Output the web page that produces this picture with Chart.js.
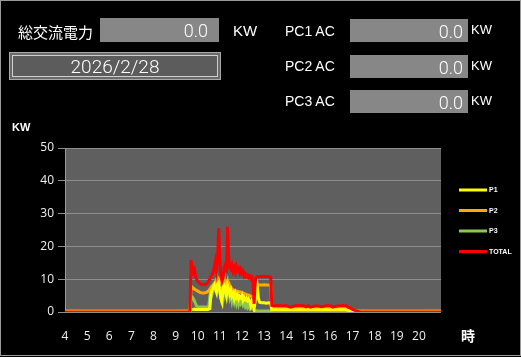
<!DOCTYPE html>
<html><head><meta charset="utf-8">
<script src="https://cdn.jsdelivr.net/npm/chart.js@4.4.1/dist/chart.umd.min.js"></script>
<style>
html,body{margin:0;padding:0;background:#000;}
#wrap{position:relative;width:521px;height:357px;overflow:hidden;background:#000;}
#frame{position:absolute;left:0;top:0;width:519px;height:354px;border:1px solid #9a9a9a;pointer-events:none;}
#c{position:absolute;left:0;top:0;}
.t{position:absolute;color:#fff;white-space:nowrap;}
.box{position:absolute;background:#878787;color:#fff;text-align:right;box-sizing:border-box;font-family:Roboto,"Open Sans",sans-serif;font-weight:300;}
</style></head>
<body>
<div id="wrap">
<canvas id="c" width="521" height="357"></canvas>
<div class="t" style="left:18px;top:21px;height:22px;line-height:22px;font:15px 'Noto Sans CJK JP';">総交流電力</div>
<div class="box" style="left:100px;top:18px;width:119px;height:24px;line-height:26px;padding-right:11px;font-size:18px;">0.0</div>
<div class="t" style="left:233px;top:22px;height:20px;line-height:20px;font:15px 'Liberation Sans';">KW</div>
<div style="position:absolute;left:9px;top:52px;width:212px;height:28px;box-sizing:border-box;border:1px solid #a8a8a8;background:#6a6a6a;">
  <div style="position:absolute;left:2px;top:2px;right:2px;bottom:2px;border:1px solid #cfcfcf;background:#5c5c5c;color:#fff;text-align:center;font-family:Roboto,'Open Sans',sans-serif;font-weight:300;font-size:19px;line-height:21px;">2026/2/28</div>
</div>
<div class="t" style="left:285px;top:23px;height:20px;line-height:20px;font:14px 'Liberation Sans';">PC1 AC</div>
<div class="t" style="left:285px;top:58px;height:20px;line-height:20px;font:14px 'Liberation Sans';">PC2 AC</div>
<div class="t" style="left:285px;top:93px;height:20px;line-height:20px;font:14px 'Liberation Sans';">PC3 AC</div>
<div class="box" style="left:350px;top:19px;width:118px;height:23px;line-height:25px;padding-right:5px;font-size:18px;">0.0</div>
<div class="box" style="left:350px;top:55px;width:118px;height:23px;line-height:25px;padding-right:5px;font-size:18px;">0.0</div>
<div class="box" style="left:350px;top:90px;width:118px;height:23px;line-height:25px;padding-right:5px;font-size:18px;">0.0</div>
<div class="t" style="left:471px;top:22px;height:20px;line-height:20px;font:13px 'Liberation Sans';">KW</div>
<div class="t" style="left:471px;top:58px;height:20px;line-height:20px;font:13px 'Liberation Sans';">KW</div>
<div class="t" style="left:471px;top:93px;height:20px;line-height:20px;font:13px 'Liberation Sans';">KW</div>
<div class="t" style="left:12px;top:121px;height:14px;line-height:14px;font:bold 11px 'Liberation Sans';">KW</div>
<div class="t" style="left:461px;top:325px;height:18px;line-height:18px;font:bold 14px 'Noto Sans CJK JP';">時</div>
<div id="frame"></div>
</div>
<script>
const seriesNames = ['P1', 'P2', 'P3', 'TOTAL'];
const seriesColors = ['#ffff00', '#ffaa00', '#8cc84b', '#ff0000'];
const xTickLabels = [4,5,6,7,8,9,10,11,12,13,14,15,16,17,18,19,20];
const yTickValues = [0,5,10,15,20,25,30,35,40,45,50];

const hours = [
 4,5,6,7,8,9,9.65,
 9.7,9.75,9.8,9.85,9.9,9.95,10,10.05,10.1,10.15,10.2,10.25,10.3,10.35,10.4,10.45,10.5,10.55,10.6,10.65,10.7,10.75,10.8,10.85,10.9,10.95,
 11,11.05,11.1,11.15,11.2,11.25,11.3,11.35,11.4,11.45,11.5,11.55,11.6,11.65,11.7,11.75,11.8,11.85,11.9,11.95,
 12,12.05,12.1,12.15,12.2,12.25,12.3,12.35,12.4,12.45,12.5,12.55,12.6,12.65,12.7,12.75,12.8,
 12.9,13,13.1,13.2,13.3,13.35,13.4,
 13.6,13.8,14,14.2,14.4,14.6,14.8,14.9,15,15.1,15.2,15.4,15.6,15.8,16,16.1,16.2,16.4,16.6,
 16.7,16.8,16.9,17,17.1,17.2,17.3,
 18,19,20,21
];
const p1 = [
 0,0,0,0,0,0,0,
 0.8,0.8,0.8,0.9,0.8,0.8,0.8,0.8,0.8,0.8,0.8,0.8,0.8,0.8,0.8,0.8,0.9,1.0,5.5,6.8,7.5,8.2,7.0,6.0,8.5,9.0,
 6.5,4.0,3.0,7.5,8.0,6.5,5.0,8.0,7.0,5.5,6.5,4.8,5.5,4.2,5.6,4.5,5.2,4.0,4.8,4.4,
 5.0,3.6,4.4,3.8,4.2,3.5,4.0,3.4,2.0,3.2,2.5,1.0,3.5,5.0,7.2,4.0,3.0,
 2.8,2.8,2.7,2.8,2.7,0.7,0.7,
 0.7,0.7,0.7,0.7,0.7,0.7,0.7,0.7,0.7,0.7,0.7,0.7,0.7,0.7,0.7,0.7,0.7,0.7,0.7,
 0.7,0.55,0.4,0.25,0.1,0,0,
 0,0,0,0
];
const p2 = [
 0.3,0.3,0.3,0.3,0.3,0.3,0.3,
 7.2,7.6,7.3,7.0,6.8,6.6,6.4,6.2,6.0,5.9,5.8,5.8,5.8,5.9,6.0,6.2,6.5,7.0,7.5,8.0,8.2,8.8,9.2,9.5,10.0,10.3,
 9.8,9.0,8.8,9.0,9.5,9.2,8.8,9.5,9.0,8.0,7.5,7.0,6.8,6.6,6.5,6.4,6.3,6.2,6.2,6.0,
 6.0,5.8,5.6,5.5,5.4,5.2,5.2,5.0,4.8,4.8,4.6,1.5,6.5,7.8,8.2,8.2,8.2,
 8.2,8.3,8.2,8.2,8.0,1.3,1.3,
 1.3,1.3,1.3,1.3,1.3,1.3,1.3,1.3,1.3,1.3,1.3,1.3,1.3,1.3,1.3,1.3,1.3,1.3,1.3,
 1.3,1.1,0.9,0.7,0.5,0.35,0.3,
 0.3,0.3,0.3,0.3
];
const p3 = [
 0,0,0,0,0,0,0,
 4.8,4.6,4.1,3.4,2.6,1.8,1.5,1.5,1.5,1.5,1.5,1.5,1.5,1.5,1.5,1.5,1.6,5.0,6.2,5.5,6.8,8.0,9.0,7.5,9.8,8.0,
 6.0,4.5,7.0,8.5,10.0,6.0,7.5,9.0,6.5,4.5,5.8,3.5,5.0,3.2,4.6,2.8,4.2,2.5,3.8,2.6,
 3.2,2.2,3.0,1.8,2.6,1.5,2.2,1.2,1.8,1.0,0.8,0.5,0.5,0.4,0.3,0.3,0.3,
 0.3,0.3,0.3,0.3,0.3,0.5,0.5,
 0.5,0.5,0.5,0.5,0.5,0.5,0.5,0.5,0.5,0.5,0.5,0.5,0.5,0.5,0.5,0.5,0.5,0.5,0.5,
 0.5,0.4,0.3,0.2,0.1,0,0,
 0,0,0,0
];
const total = [
 0,0,0,0,0,0,0,
 15.8,13.6,12.2,12.9,11.0,10.0,9.4,9.0,8.7,8.5,8.4,8.3,8.3,8.4,8.6,8.9,9.4,10.2,10.8,11.6,12.0,13.8,15.5,13.0,17.0,25.5,
 16.0,11.0,9.5,10.5,13.5,14.5,12.0,26.0,17.0,13.5,13.0,14.2,12.5,13.5,12.2,13.8,12.6,13.2,12.0,13.0,
 11.8,12.4,11.0,11.6,10.8,11.2,10.5,10.9,10.2,10.6,9.2,2.5,9.5,10.4,10.8,10.8,10.8,
 10.8,10.9,10.8,10.8,10.6,2.0,1.9,
 1.9,1.9,1.9,1.5,1.9,1.9,1.9,1.6,1.9,1.5,1.7,1.9,1.6,1.9,1.9,1.5,1.7,1.9,1.9,
 1.9,1.5,1.2,0.8,0.5,0.3,0.1,
 0,0,0,0
];

const seriesValues = [p1, p2, p3, total];
const datasets = seriesNames.map((name, i) => ({
  label: name,
  data: hours.map((h, k) => ({x: h, y: seriesValues[i][k]})),
  borderColor: seriesColors[i],
  backgroundColor: seriesColors[i],
  borderWidth: 3,
  pointRadius: 0,
  tension: 0,
  fill: false,
  order: name === 'TOTAL' ? 0 : 1
}));

const decoPlugin = {
  id: 'deco',
  beforeDraw(chart) {
    const {ctx, chartArea: a} = chart;
    ctx.save();
    ctx.fillStyle = '#5f5f5f';
    ctx.fillRect(a.left, a.top, a.right - a.left, a.bottom - a.top);
    ctx.restore();
  },
  afterDraw(chart) {
    const ctx = chart.ctx;
    ctx.save();
    chart.data.datasets.forEach((ds, i) => {
      const y = 190 + i * 20.5;
      ctx.strokeStyle = ds.borderColor;
      ctx.lineWidth = 3;
      ctx.beginPath();
      ctx.moveTo(459, y);
      ctx.lineTo(487, y);
      ctx.stroke();
      ctx.fillStyle = '#ffffff';
      ctx.font = 'bold 7px "Liberation Sans"';
      ctx.textBaseline = 'middle';
      ctx.fillText(ds.label, 489, y + 0.5);
    });
    ctx.restore();
  }
};

new Chart(document.getElementById('c'), {
  type: 'line',
  data: { datasets },
  plugins: [decoPlugin],
  options: {
    responsive: false,
    devicePixelRatio: 1,
    animation: false,
    layout: { padding: { left: 0, top: 148, right: 80, bottom: 0 } },
    plugins: { legend: { display: false }, tooltip: { enabled: false } },
    scales: {
      x: {
        type: 'linear',
        min: 4, max: 21,
        afterBuildTicks(scale) { scale.ticks = xTickLabels.map(v => ({value: v})); },
        afterFit(scale) { scale.height = 45; },
        grid: { display: false },
        border: { display: false },
        ticks: { color: '#f0f0f0', padding: 9, autoSkip: false, maxRotation: 0,
                 font: { family: 'Open Sans', size: 12 } }
      },
      y: {
        min: 0, max: 50,
        afterBuildTicks(scale) { scale.ticks = yTickValues.map(v => ({value: v})); },
        afterFit(scale) { scale.width = 65; },
        grid: { color: '#8e8e8e', lineWidth: 1, tickLength: 7, drawTicks: true },
        border: { display: true, color: '#9a9a9a', width: 1 },
        ticks: { color: '#f0f0f0', padding: 4, font: { family: 'Open Sans', size: 12 } }
      }
    }
  }
});
</script>
</body></html>
